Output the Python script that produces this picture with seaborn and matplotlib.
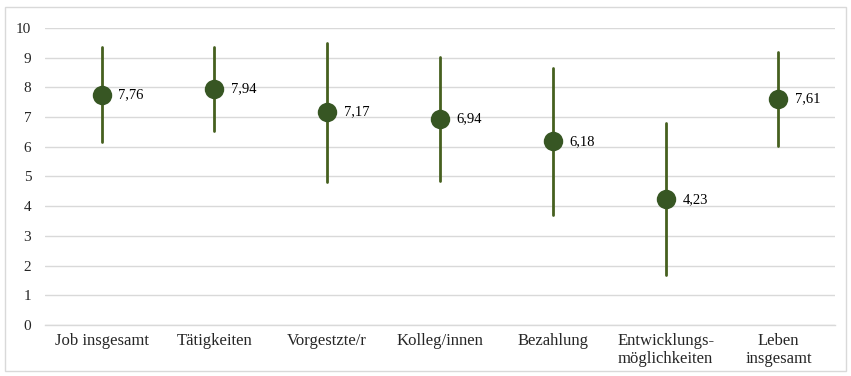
import numpy as np
import pandas as pd
import matplotlib
matplotlib.use("Agg")
import matplotlib.pyplot as plt
from matplotlib.patches import Rectangle
import seaborn as sns

categories = ["Job insgesamt", "Tätigkeiten", "Vorgestzte/r", "Kolleg/innen",
              "Bezahlung", "Entwicklungs-\nmöglichkeiten", "Leben\ninsgesamt"]
means = [7.76, 7.94, 7.17, 6.94, 6.18, 4.23, 7.61]
lower = [6.15, 6.53, 4.83, 4.85, 3.72, 1.67, 6.03]
upper = [9.36, 9.35, 9.51, 9.03, 8.64, 6.79, 9.19]
yticks = list(range(0, 11))

point_color = "#375623"
bar_color = "#46601f"
grid_color = "#d9d9d9"

sns.set_theme(style="white")
plt.rcParams["font.family"] = ["Liberation Serif", "DejaVu Serif"]

# long form: lower / mean / upper per category; median + full range gives point and bar
df = pd.DataFrame({
    "cat": [c for c in categories for _ in range(3)],
    "val": [v for trio in zip(lower, means, upper) for v in trio],
})

fig = plt.figure(figsize=(8.51, 3.76), dpi=100)
ax = fig.add_axes([0.053, 0.1356, 0.928, 0.79])

sns.pointplot(data=df, x="cat", y="val", order=categories,
              estimator=np.median, errorbar=("pi", 100),
              linestyle="none", marker="o", markersize=14,
              markeredgewidth=0, color=point_color,
              err_kws={"linewidth": 2, "color": bar_color},
              ax=ax)

# keep the round markers above their range bars
for ln in ax.lines:
    if ln.get_marker() == "o":
        ln.set_zorder(5)
        ln.set_markersize(14)
        ln.set_markeredgewidth(0)
    else:
        ln.set_zorder(3)

for i, m in enumerate(means):
    ax.annotate(f"{m:.2f}".replace(".", ","), (i, m), xytext=(12, 0),
                textcoords="offset points", va="center", ha="left",
                fontsize=10.5, color="#000000")

ax.set_ylim(0, 10)
ax.set_xlim(-0.5, len(categories) - 0.5)
ax.set_yticks(yticks)
ax.set_yticklabels([str(t) for t in yticks], fontsize=11)
ax.yaxis.grid(True, color=grid_color, linewidth=1)
ax.set_axisbelow(True)
ax.set_xticks(range(len(categories)))
ax.set_xticklabels(categories, fontsize=12, linespacing=1.1)
ax.set_xticks(np.arange(-0.5, len(categories)), minor=True)
ax.tick_params(axis="x", which="major", length=0, pad=6)
ax.tick_params(axis="x", which="minor", length=5, color=grid_color, width=1)
ax.tick_params(axis="y", length=0, pad=10)
ax.set_xlabel("")
ax.set_ylabel("")
for s in ["top", "right", "left"]:
    ax.spines[s].set_visible(False)
ax.spines["bottom"].set_color(grid_color)
ax.spines["bottom"].set_linewidth(1)

fig.patches.append(Rectangle((0.006, 0.012), 0.988, 0.97, transform=fig.transFigure,
                             fill=False, edgecolor=grid_color, linewidth=1))

fig.savefig("out.png", dpi=100, facecolor="white")
